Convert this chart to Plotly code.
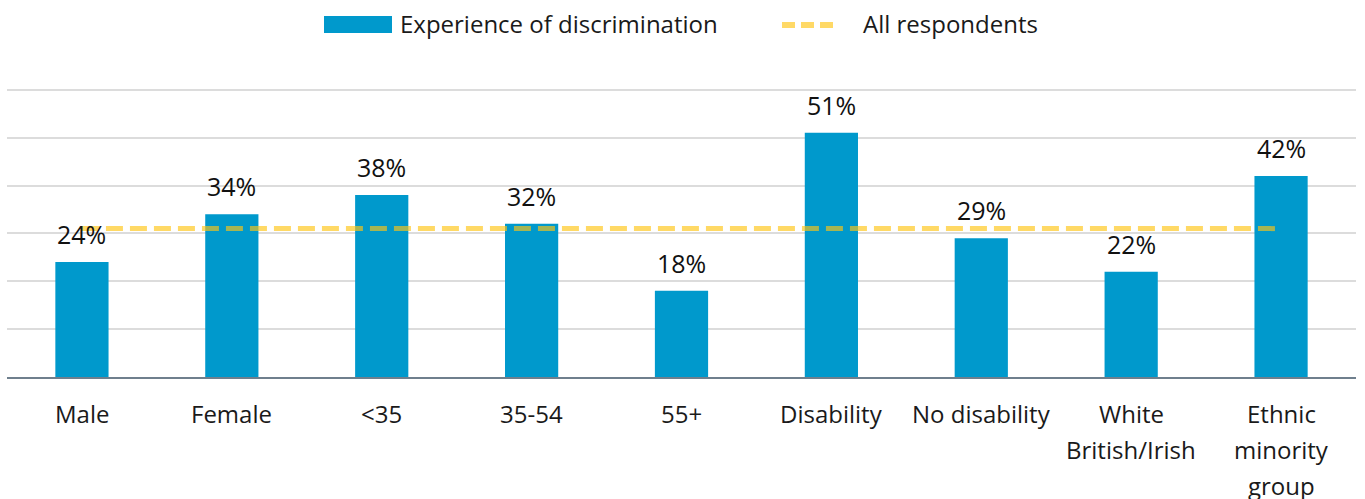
import plotly.graph_objects as go

# Share of each group reporting an experience of discrimination (%)
categories = ["Male", "Female", "<35", "35-54", "55+", "Disability",
              "No disability", "White British/Irish", "Ethnic minority group"]
values = [24, 34, 38, 32, 18, 51, 29, 22, 42]
all_respondents = 31

# Axis labels, one list of lines per category
tick_lines = [
    ["Male"], ["Female"], ["&lt;35"], ["35-54"], ["55+"], ["Disability"],
    ["No disability"], ["White", "British/Irish"], ["Ethnic", "minority", "group"],
]

BAR_NAME = "Experience of discrimination"
LINE_NAME = "All respondents"

BLUE = "#0099CC"
YELLOW = "rgb(255,197,20)"
YELLOW_KEY = "rgb(255,217,102)"
FONT = "Open Sans"

W, H = 1365, 499
M = dict(l=7, r=9, t=85, b=122)


def px_x(p):
    """Horizontal pixel -> paper fraction."""
    return (p - M["l"]) / (W - M["l"] - M["r"])


def px_y(p):
    """Vertical pixel (from top) -> paper fraction."""
    return (H - M["b"] - p) / (H - M["t"] - M["b"])


fig = go.Figure()
fig.add_trace(go.Bar(
    x=categories, y=values, name=BAR_NAME,
    marker=dict(color=BLUE, line=dict(width=0)), width=0.355,
))
fig.add_trace(go.Scatter(
    x=categories, y=[all_respondents] * len(categories), name=LINE_NAME,
    mode="lines", opacity=0.65,
    line=dict(color=YELLOW, width=5, dash="17px,7px"),
))

annotations = []
for c, v in zip(categories, values):
    annotations.append(dict(
        x=c, y=v, xref="x", yref="y", text=f"{v}%", showarrow=False,
        yanchor="middle", yshift=28,
        font=dict(size=25, color="#111111", family=FONT, weight=500),
    ))
for c, lines in zip(categories, tick_lines):
    for i, line in enumerate(lines):
        annotations.append(dict(
            x=c, y=0, xref="x", yref="paper", text=line, showarrow=False,
            yanchor="middle", yshift=-36 - 36 * i,
            font=dict(size=24, color="#1a1a1a", family=FONT),
        ))

# Legend row across the top
legend_font = dict(size=24, color="#1a1a1a", family=FONT)
annotations += [
    dict(x=px_x(398), y=px_y(23), xref="paper", yref="paper", text=BAR_NAME,
         showarrow=False, xanchor="left", yanchor="middle", font=legend_font),
    dict(x=px_x(861), y=px_y(23), xref="paper", yref="paper", text=LINE_NAME,
         showarrow=False, xanchor="left", yanchor="middle", font=legend_font),
]
shapes = [
    dict(type="rect", xref="paper", yref="paper",
         x0=px_x(324), x1=px_x(392), y0=px_y(33), y1=px_y(16),
         fillcolor=BLUE, line=dict(width=0)),
    dict(type="line", xref="paper", yref="paper",
         x0=px_x(782), x1=px_x(836), y0=px_y(25), y1=px_y(25),
         line=dict(color=YELLOW_KEY, width=6, dash="13px,6px")),
]

fig.update_layout(
    width=W, height=H,
    margin=M,
    paper_bgcolor="white", plot_bgcolor="white",
    font=dict(family=FONT, color="#1a1a1a"),
    showlegend=False,
    xaxis=dict(showticklabels=False, showgrid=False, showline=True,
               linecolor="#6f7f8d", linewidth=2, ticks=""),
    yaxis=dict(range=[0, 61], dtick=10, showticklabels=False,
               gridcolor="#dcdcdc", gridwidth=1.5, zeroline=False),
    annotations=annotations,
    shapes=shapes,
    bargap=0.6,
)

fig.write_html("out.html")
